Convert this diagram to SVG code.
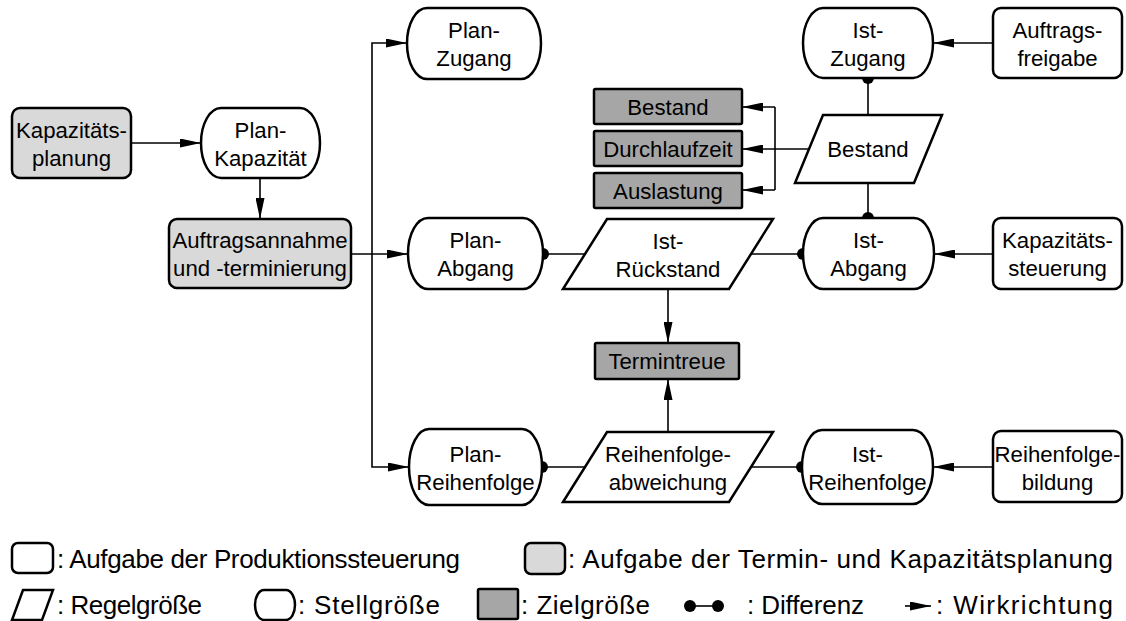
<svg xmlns="http://www.w3.org/2000/svg" width="1126" height="621" viewBox="0 0 1126 621">
  <defs>
    <style>
      .box { fill: #ffffff; stroke: #000; stroke-width: 2.5; }
      .plan { fill: #d9d9d9; stroke: #000; stroke-width: 2.5; }
      .goal { fill: #a6a6a6; stroke: #000; stroke-width: 2.5; }
      .line { fill: none; stroke: #000; stroke-width: 1.6; }
      .arrow { fill: none; stroke: #000; stroke-width: 1.6; marker-end: url(#head); }
      .dot { fill: #000; }
      text { font-family: "Liberation Sans", Arial, Helvetica, sans-serif; fill: #000; }
      .t { font-size: 22.2px; text-anchor: middle; }
      .lg { font-size: 26px; }
    </style>
    <marker id="head" markerUnits="userSpaceOnUse" markerWidth="21" markerHeight="9" refX="21" refY="4.5" orient="auto">
      <path d="M0,0 L21,4.5 L0,9 z" fill="#000"/>
    </marker>
  </defs>

  <!-- connectors -->
  <g id="connectors">
    <path class="arrow" d="M131,143 H201"/>
    <path class="arrow" d="M260,178 V219"/>
    <path class="arrow" d="M351,254 H408"/>
    <path class="arrow" d="M372,254 V43 H407"/>
    <path class="arrow" d="M372,254 V467 H409"/>
    <path class="arrow" d="M993,43 H933"/>
    <path class="arrow" d="M993,254 H934"/>
    <path class="arrow" d="M993,467 H933"/>
    <path class="line" d="M868,78 V115"/>
    <path class="line" d="M868,183 V218"/>
    <path class="arrow" d="M809,149 H742"/>
    <path class="line" d="M775,107 V190"/>
    <path class="arrow" d="M775,107 H742"/>
    <path class="arrow" d="M775,190 H742"/>
    <path class="line" d="M543,254 H585"/>
    <path class="line" d="M751,254 H803"/>
    <path class="arrow" d="M668,289 V343"/>
    <path class="arrow" d="M668,432 V379"/>
    <path class="line" d="M542,467 H585"/>
    <path class="line" d="M751,467 H802"/>
    <circle class="dot" cx="868" cy="78" r="6"/>
    <circle class="dot" cx="868" cy="218" r="6"/>
    <circle class="dot" cx="543" cy="254" r="6"/>
    <circle class="dot" cx="803" cy="254" r="6"/>
    <circle class="dot" cx="542" cy="467" r="6"/>
    <circle class="dot" cx="802" cy="467" r="6"/>
  </g>

  <!-- planning tasks -->
  <g id="kapazitaetsplanung">
    <rect class="plan" x="12" y="108" width="119" height="70" rx="8"/>
    <text class="t" x="71.5" y="138">Kapazitäts-</text>
    <text class="t" x="71.5" y="166">planung</text>
  </g>
  <g id="auftragsannahme">
    <rect class="plan" x="169" y="219" width="182" height="69" rx="8"/>
    <text class="t" x="260" y="248">Auftragsannahme</text>
    <text class="t" x="260" y="276">und -terminierung</text>
  </g>

  <!-- manipulated variables -->
  <g id="plan-kapazitaet">
    <rect class="box" x="201" y="108" width="119" height="70" rx="20" ry="35"/>
    <text class="t" x="260.5" y="138">Plan-</text>
    <text class="t" x="260.5" y="166">Kapazität</text>
  </g>
  <g id="plan-zugang">
    <rect class="box" x="407" y="8" width="134" height="71" rx="20" ry="35.5"/>
    <text class="t" x="474" y="38">Plan-</text>
    <text class="t" x="474" y="66">Zugang</text>
  </g>
  <g id="plan-abgang">
    <rect class="box" x="408" y="218" width="135" height="71" rx="20" ry="35.5"/>
    <text class="t" x="475.5" y="248">Plan-</text>
    <text class="t" x="475.5" y="276">Abgang</text>
  </g>
  <g id="plan-reihenfolge">
    <rect class="box" x="409" y="429" width="133" height="76" rx="20" ry="38"/>
    <text class="t" x="475.5" y="462">Plan-</text>
    <text class="t" x="475.5" y="490">Reihenfolge</text>
  </g>
  <g id="ist-zugang">
    <rect class="box" x="803" y="8" width="130" height="70" rx="20" ry="35"/>
    <text class="t" x="868" y="38">Ist-</text>
    <text class="t" x="868" y="66">Zugang</text>
  </g>
  <g id="ist-abgang">
    <rect class="box" x="803" y="218" width="131" height="71" rx="20" ry="35.5"/>
    <text class="t" x="868.5" y="248">Ist-</text>
    <text class="t" x="868.5" y="276">Abgang</text>
  </g>
  <g id="ist-reihenfolge">
    <rect class="box" x="802" y="430" width="131" height="74" rx="20" ry="37"/>
    <text class="t" x="867.5" y="462">Ist-</text>
    <text class="t" x="867.5" y="490">Reihenfolge</text>
  </g>

  <!-- controlled variables -->
  <g id="ist-rueckstand">
    <polygon class="box" points="607,219 773,219 729,289 563,289"/>
    <text class="t" x="668" y="249">Ist-</text>
    <text class="t" x="668" y="277">Rückstand</text>
  </g>
  <g id="reihenfolgeabweichung">
    <polygon class="box" points="607,432 773,432 729,502 563,502"/>
    <text class="t" x="668" y="462">Reihenfolge-</text>
    <text class="t" x="668" y="490">abweichung</text>
  </g>
  <g id="bestand-regel">
    <polygon class="box" points="823,115 942,115 914,183 795,183"/>
    <text class="t" x="868" y="157">Bestand</text>
  </g>

  <!-- production control tasks -->
  <g id="auftragsfreigabe">
    <rect class="box" x="993" y="8" width="129" height="70" rx="8"/>
    <text class="t" x="1057.5" y="38">Auftrags-</text>
    <text class="t" x="1057.5" y="66">freigabe</text>
  </g>
  <g id="kapazitaetssteuerung">
    <rect class="box" x="993" y="218" width="129" height="71" rx="8"/>
    <text class="t" x="1057.5" y="248">Kapazitäts-</text>
    <text class="t" x="1057.5" y="276">steuerung</text>
  </g>
  <g id="reihenfolgebildung">
    <rect class="box" x="993" y="431" width="129" height="71" rx="8"/>
    <text class="t" x="1057.5" y="462">Reihenfolge-</text>
    <text class="t" x="1057.5" y="490">bildung</text>
  </g>

  <!-- target variables -->
  <g id="ziel-bestand">
    <rect class="goal" x="594" y="89" width="148" height="35" rx="1.5"/>
    <text class="t" x="668" y="114.5">Bestand</text>
  </g>
  <g id="ziel-durchlaufzeit">
    <rect class="goal" x="594" y="131" width="148" height="35" rx="1.5"/>
    <text class="t" x="668" y="156.5">Durchlaufzeit</text>
  </g>
  <g id="ziel-auslastung">
    <rect class="goal" x="594" y="173" width="148" height="35" rx="1.5"/>
    <text class="t" x="668" y="198.5">Auslastung</text>
  </g>
  <g id="ziel-termintreue">
    <rect class="goal" x="595" y="343" width="144" height="36" rx="1.5"/>
    <text class="t" x="667" y="369">Termintreue</text>
  </g>

  <!-- legend -->
  <g id="legend">
    <rect class="box" x="12" y="543" width="41" height="30" rx="6"/>
    <text class="lg" x="57" y="568" textLength="403">: Aufgabe der Produktionssteuerung</text>
    <rect class="plan" x="525" y="543" width="40" height="31" rx="6"/>
    <text class="lg" x="568" y="568" textLength="545">: Aufgabe der Termin- und Kapazitätsplanung</text>

    <polygon class="box" points="23,590 53,590 42,620 12,620"/>
    <text class="lg" x="57" y="614" textLength="145">: Regelgröße</text>
    <rect class="box" x="255" y="590" width="40" height="30" rx="9" ry="15"/>
    <text class="lg" x="298" y="614" textLength="142">: Stellgröße</text>
    <rect class="goal" x="478" y="589" width="40" height="30" rx="1.5"/>
    <text class="lg" x="521" y="614" textLength="129">: Zielgröße</text>
    <path class="line" d="M690,606 H718"/>
    <circle class="dot" cx="690" cy="606" r="6"/>
    <circle class="dot" cx="718" cy="606" r="6"/>
    <text class="lg" x="747" y="614" textLength="117">: Differenz</text>
    <path class="arrow" d="M905,606 H931"/>
    <text class="lg" x="936" y="614" textLength="177">: Wirkrichtung</text>
  </g>
</svg>
